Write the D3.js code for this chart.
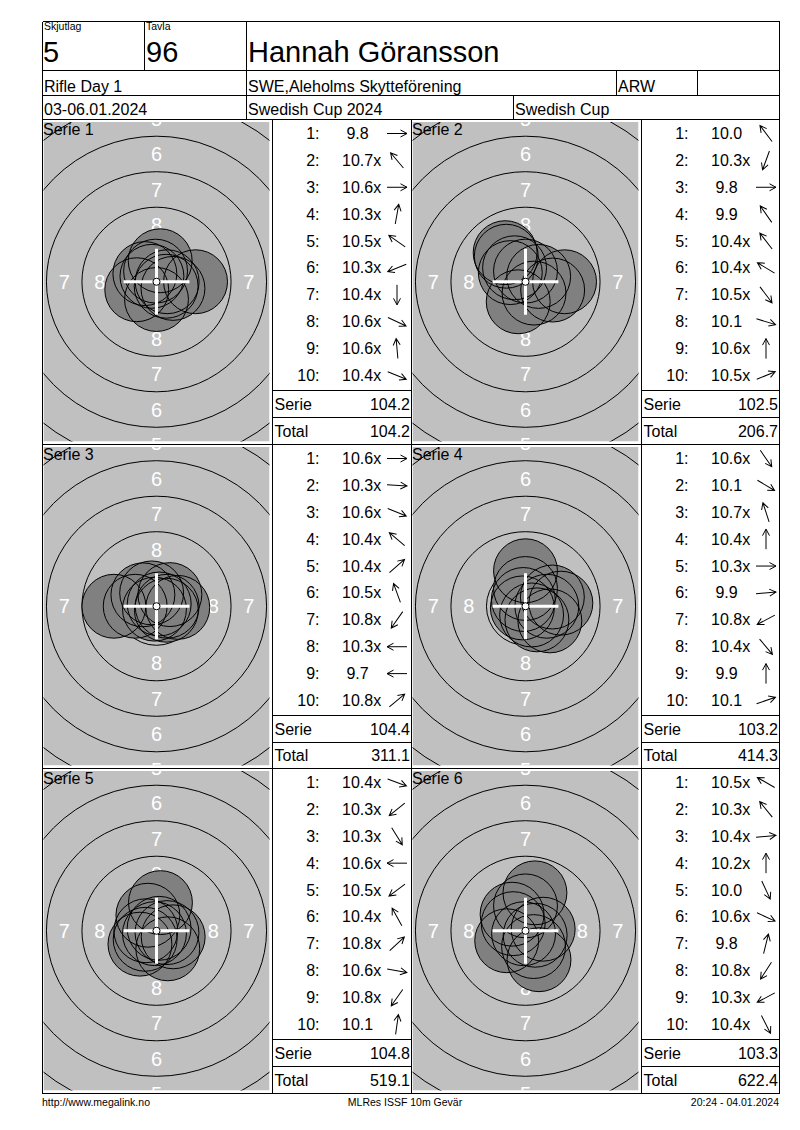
<!DOCTYPE html>
<html>
<head>
<meta charset="utf-8">
<script src="https://cdn.jsdelivr.net/npm/d3@7"></script>
<style>
  body { margin: 0; background: #fff; }
  svg text { font-family: "Liberation Sans", Arial, sans-serif; fill: #000; white-space: pre; }
</style>
</head>
<body>
<svg id="card" width="800" height="1130"></svg>
<script>
// header info
var squadNo = "5";
var laneNo = "96";
var shooterName = "Hannah Göransson";
var headerRow2 = ["Rifle Day 1", "SWE,Aleholms Skytteförening", "ARW", ""];
var headerRow3 = ["03-06.01.2024", "Swedish Cup 2024", "Swedish Cup"];
var footerTexts = ["http://www.megalink.no", "MLRes ISSF 10m Gevär", "20:24 - 04.01.2024"];

// series: decimal scores and shot direction (deg, 0 = right, counter clockwise)
var serieNames = ["Serie 1", "Serie 2", "Serie 3", "Serie 4", "Serie 5", "Serie 6"];
var serie1Scores = [9.8, 10.7, 10.6, 10.3, 10.5, 10.3, 10.4, 10.6, 10.6, 10.4];
var serie1Dirs   = [0, 130, 0, 80, 145, 202, 270, 335, 95, 338];
var serie2Scores = [10.0, 10.3, 9.8, 9.9, 10.4, 10.4, 10.5, 10.1, 10.6, 10.5];
var serie2Dirs   = [127, 250, 0, 125, 128, 149, 307, 343, 90, 22];
var serie3Scores = [10.6, 10.3, 10.6, 10.4, 10.4, 10.5, 10.8, 10.3, 9.7, 10.8];
var serie3Dirs   = [0, 357, 338, 140, 41, 110, 235, 180, 180, 40];
var serie4Scores = [10.6, 10.1, 10.7, 10.4, 10.3, 9.9, 10.8, 10.4, 9.9, 10.1];
var serie4Dirs   = [305, 329, 108, 90, 0, 5, 208, 310, 90, 19];
var serie5Scores = [10.4, 10.3, 10.3, 10.6, 10.5, 10.4, 10.8, 10.6, 10.8, 10.1];
var serie5Dirs   = [340, 219, 302, 180, 217, 119, 43, 350, 235, 82];
var serie6Scores = [10.5, 10.3, 10.4, 10.2, 10.0, 10.6, 9.8, 10.8, 10.3, 10.4];
var serie6Dirs   = [150, 129, 5, 90, 295, 335, 76, 237, 208, 297];

var allScores = [serie1Scores, serie2Scores, serie3Scores, serie4Scores, serie5Scores, serie6Scores];
var allDirs = [serie1Dirs, serie2Dirs, serie3Dirs, serie4Dirs, serie5Dirs, serie6Dirs];

// target rings (ISSF 10m rifle), mm
var ringNumbers = [1, 2, 3, 4, 5, 6, 7, 8, 9];
var labelRings = [5, 6, 7, 8];
var shotRadiusMm = 2.25;

var svg = d3.select("#card");

// layout of the card
var L = 42.5, R = 779.5, T = 21.5;
var headLines = [70.5, 95.5, 119.5];
var rowsY = [119.5, 444.5, 768.5, 1093.5];
var colsX = [42.5, 272.5, 411.5, 641.5, 779.5];

// px per mm on the target
var mm = d3.scaleLinear().domain([0, 1]).range([0, 14.2]);
function ringR(n) { return 0.25 + (10 - n) * 2.5; }
function shotDist(s) { return (10.9 - s) * 2.5; }
function scoreText(s) { return (s < 10 ? " " : "") + s.toFixed(1) + (s >= 10.2 ? "x" : ""); }

var lines = svg.append("g").attr("stroke", "#000").attr("stroke-width", 1).attr("shape-rendering", "crispEdges");
function hline(x1, x2, y) { lines.append("line").attr("x1", x1).attr("x2", x2).attr("y1", y).attr("y2", y); }
function vline(x, y1, y2) { lines.append("line").attr("x1", x).attr("x2", x).attr("y1", y1).attr("y2", y2); }
function txt(x, y, s, size, anchor) {
  return svg.append("text").attr("x", x).attr("y", y).attr("font-size", size)
    .attr("text-anchor", anchor || "start").text(s);
}

// ---- header ----
txt(44, 30, "Skjutlag", 10.5);
txt(146, 30, "Tavla", 10.5);
txt(43, 62, squadNo, 29);
txt(146, 62, laneNo, 29);
txt(248, 62, shooterName, 29);
txt(44, 91.5, headerRow2[0], 16);
txt(248, 91.5, headerRow2[1], 16);
txt(618, 91.5, headerRow2[2], 16);
txt(44, 115, headerRow3[0], 16);
txt(248, 115, headerRow3[1], 16);
txt(515, 115, headerRow3[2], 16);

// ---- series blocks ----
var running = 0;
serieNames.forEach(function(name, i) {
  var row = Math.floor(i / 2), col = i % 2;
  var x0 = colsX[col * 2], x1 = colsX[col * 2 + 1], x2 = colsX[col * 2 + 2];
  var y0 = rowsY[row], y1 = rowsY[row + 1];
  var scores = allScores[i], dirs = allDirs[i];

  // target panel
  var gx0 = x0 + 1, gx1 = x1 - 3, gy0 = y0 + 2.5, gy1 = y1 - 3;
  var cx = (gx0 + gx1) / 2, cy = (gy0 + gy1) / 2;
  var hw = (gx1 - gx0) / 2, hh = (gy1 - gy0) / 2;
  svg.append("clipPath").attr("id", "clip" + i)
    .append("rect").attr("x", gx0).attr("y", gy0).attr("width", gx1 - gx0).attr("height", gy1 - gy0);
  var tg = svg.append("g").attr("clip-path", "url(#clip" + i + ")");
  tg.append("rect").attr("x", gx0).attr("y", gy0).attr("width", gx1 - gx0).attr("height", gy1 - gy0)
    .attr("fill", "#c0c0c0");
  var tc = tg.append("g").attr("transform", "translate(" + cx + "," + cy + ")");

  tc.selectAll("circle.ring").data(ringNumbers).join("circle")
    .attr("class", "ring").attr("r", function(n) { return mm(ringR(n)); })
    .attr("fill", "none").attr("stroke", "#000").attr("stroke-width", 1);

  // ring numbers on four sides (only those that reach into the panel)
  var lbl = [];
  labelRings.forEach(function(n) {
    var r = mm((ringR(n) + ringR(n + 1)) / 2);
    [[0, -r], [0, r], [-r, 0], [r, 0]].forEach(function(p) {
      if (Math.abs(p[0]) < hw + 4 && Math.abs(p[1]) < hh + 6) lbl.push({ n: n, x: p[0], y: p[1] });
    });
  });
  tc.selectAll("text.rn").data(lbl).join("text")
    .attr("class", "rn").attr("x", function(d) { return d.x; }).attr("y", function(d) { return d.y; })
    .attr("dy", "0.36em").attr("text-anchor", "middle").attr("font-size", 20)
    .style("fill", "#fff").text(function(d) { return d.n; });

  // shots
  var shots = scores.map(function(s, k) {
    var p = d3.pointRadial((90 - dirs[k]) * Math.PI / 180, mm(shotDist(s)));
    return { x: p[0], y: p[1] };
  });
  tc.append("g").selectAll("circle").data(shots).join("circle")
    .attr("cx", function(d) { return d.x; }).attr("cy", function(d) { return d.y; })
    .attr("r", mm(shotRadiusMm)).attr("fill", "#808080");
  tc.append("g").selectAll("circle").data(shots).join("circle")
    .attr("cx", function(d) { return d.x; }).attr("cy", function(d) { return d.y; })
    .attr("r", mm(shotRadiusMm)).attr("fill", "none").attr("stroke", "#000").attr("stroke-width", 1);

  // white cross and ten dot
  var cr = mm(shotRadiusMm) + 1;
  tc.append("path").attr("d", "M" + (-cr) + ",0H" + cr + "M0," + (-cr) + "V" + cr)
    .attr("stroke", "#fff").attr("stroke-width", 3);
  tc.append("circle").attr("r", mm(0.25)).attr("fill", "#fff").attr("stroke", "#000").attr("stroke-width", 1);

  txt(x0 + 0.5, y0 + 15, name, 16);

  // shot table
  var rowY = d3.scaleLinear().domain([0, 9]).range([y0 + 14, y0 + 256]);
  var tb = svg.append("g");
  tb.selectAll("text.idx").data(scores).join("text").attr("class", "idx")
    .attr("x", x1 + 47).attr("y", function(d, k) { return rowY(k) + 5.5; })
    .attr("text-anchor", "end").attr("font-size", 16).text(function(d, k) { return (k + 1) + ":"; });
  tb.selectAll("text.sc").data(scores).join("text").attr("class", "sc")
    .attr("x", x1 + 69.5).attr("y", function(d, k) { return rowY(k) + 5.5; })
    .attr("font-size", 16).text(scoreText);
  tb.selectAll("path.arr").data(dirs).join("path").attr("class", "arr")
    .attr("transform", function(d, k) { return "translate(" + (x1 + 124.5) + "," + rowY(k) + ") rotate(" + (-d) + ")"; })
    .attr("d", "M-10,0L10,0M3.5,-3.5L10,0L3.5,3.5")
    .attr("fill", "none").attr("stroke", "#000").attr("stroke-width", 1);

  var serieSum = d3.sum(scores);
  running += serieSum;
  var ls = y0 + 271, lt = y0 + 297.5;
  hline(x1, x2, ls);
  hline(x1, x2, lt);
  txt(x1 + 2, (ls + lt) / 2 + 6, "Serie", 16);
  txt(x2 - 1.5, (ls + lt) / 2 + 6, serieSum.toFixed(1), 16, "end");
  txt(x1 + 2, (lt + y1) / 2 + 6, "Total", 16);
  txt(x2 - 1.5, (lt + y1) / 2 + 6, running.toFixed(1), 16, "end");
});

// ---- grid lines ----
hline(L, R, T);
headLines.forEach(function(y) { hline(L, R, y); });
vline(L, T, rowsY[3]);
vline(R, T, rowsY[3]);
vline(144.5, T, headLines[0]);
vline(246.5, T, headLines[2]);
vline(616.5, headLines[0], headLines[1]);
vline(697.5, headLines[0], headLines[1]);
vline(513.5, headLines[1], headLines[2]);
rowsY.forEach(function(y) { hline(L, R, y); });
colsX.slice(1, 4).forEach(function(x) { vline(x, rowsY[0], rowsY[3]); });

// ---- footer ----
txt(42, 1106, footerTexts[0], 10.5);
txt(405, 1106, footerTexts[1], 10.5, "middle");
txt(779, 1106, footerTexts[2], 10.5, "end");
</script>
</body>
</html>
